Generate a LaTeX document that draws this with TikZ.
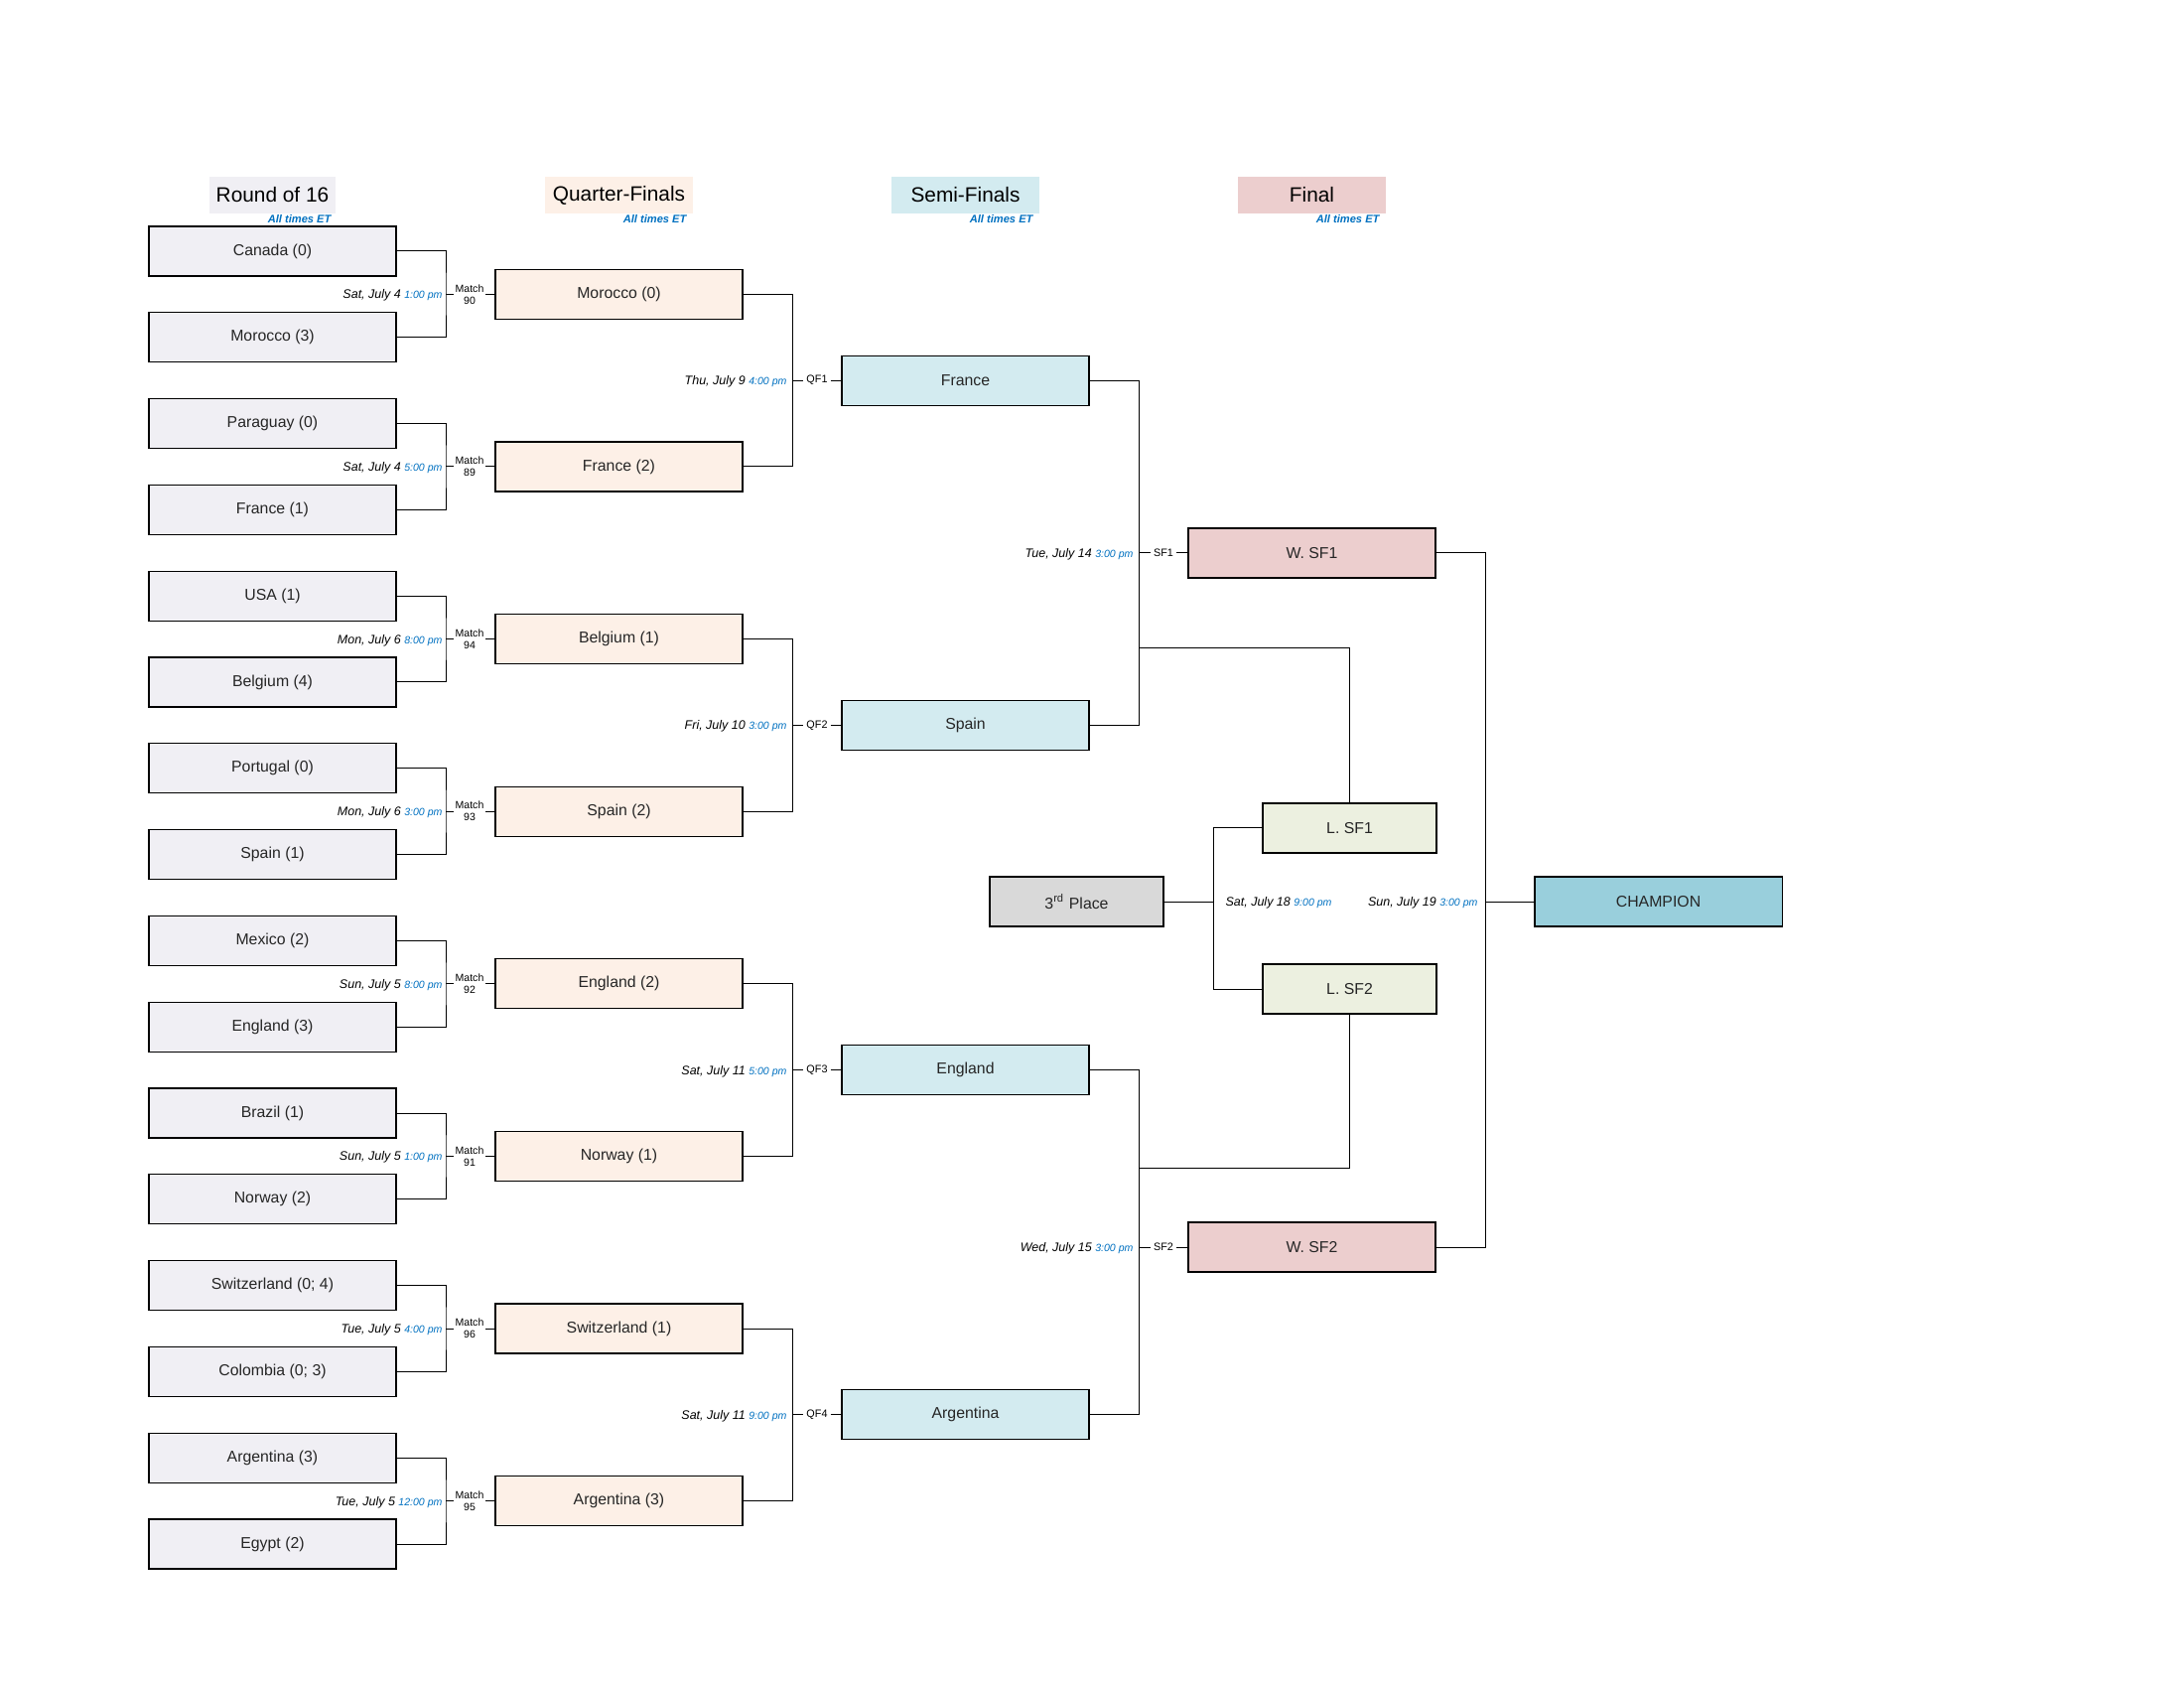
\documentclass[tikz,border=0pt]{standalone}
\usepackage{fontspec}
\setmainfont{Liberation Sans}
\definecolor{rsfill}{RGB}{240,239,244}
\definecolor{qffill}{RGB}{253,240,231}
\definecolor{sffill}{RGB}{211,235,240}
\definecolor{wffill}{RGB}{236,206,206}
\definecolor{lffill}{RGB}{236,240,224}
\definecolor{thfill}{RGB}{217,217,217}
\definecolor{chfill}{RGB}{153,207,220}
\definecolor{timeblue}{RGB}{0,112,192}
\newcommand{\mydt}[2]{{\fontsize{4.5}{5}\selectfont\itshape #1\ }{\fontsize{3.8}{4.5}\selectfont\itshape\color{timeblue}#2}}
\begin{document}
\begin{tikzpicture}[x=0.36pt,y=-0.36pt,
 team/.style={draw=black, line width=0.38pt, minimum width=89.64pt, minimum height=18pt, inner sep=0pt, text=black!85, font=\fontsize{5.7}{6.5}\selectfont},
 smallbox/.style={team, minimum width=63pt},
 title/.style={minimum height=13.3pt, inner sep=0pt, font=\fontsize{7.5}{9}\selectfont},
 alltimes/.style={anchor=east, inner sep=0pt, text=timeblue, font=\fontsize{4}{5}\selectfont\bfseries\itshape},
 datelab/.style={inner sep=0pt, font=\fontsize{4.5}{5}\selectfont},
 mlab/.style={inner xsep=0.4pt, inner ysep=0pt, align=center, font=\fontsize{3.8}{4.3}\selectfont},
 qlab/.style={inner xsep=0.9pt, inner ysep=0pt, font=\fontsize{3.9}{4.5}\selectfont},
 conn/.style={line width=0.36pt}]

\useasboundingbox (0,0) rectangle (2200,1700);

% titles
\node[title, fill=rsfill, minimum width=45.4pt] (t1) at (274.5,196.5) {Round of 16};
\node[title, fill=qffill, minimum width=53.3pt] (t2) at (623.5,196.5) {Quarter-Finals};
\node[title, fill=sffill, minimum width=53.3pt] (t3) at (972.5,196.5) {Semi-Finals};
\node[title, fill=wffill, minimum width=53.3pt] (t4) at (1321.5,196.5) {Final};
\node[alltimes] (a1) at (334,221) {All times ET};
\node[alltimes] (a2) at (692,221) {All times ET};
\node[alltimes] (a3) at (1041,221) {All times ET};
\node[alltimes] (a4) at (1390,221) {All times ET};

% round of 16
\foreach \n [count=\i from 0] in {Canada (0), Morocco (3), Paraguay (0), France (1), USA (1), Belgium (4), Portugal (0), Spain (1), Mexico (2), England (3), Brazil (1), Norway (2), Switzerland (0; 4), Colombia (0; 3), Argentina (3), Egypt (2)}
  \node[team, fill=rsfill] (r\i) at (274.5, {253+86.8*\i}) {\n};

% quarter-finals
\foreach \n [count=\i from 0] in {Morocco (0), France (2), Belgium (1), Spain (2), England (2), Norway (1), Switzerland (1), Argentina (3)}
  \node[team, fill=qffill] (q\i) at (623.5, {296.4+173.6*\i}) {\n};

% semi-finals
\foreach \n [count=\i from 0] in {France, Spain, England, Argentina}
  \node[team, fill=sffill] (s\i) at (972.5, {383.2+347.2*\i}) {\n};

% final column
\node[team, fill=wffill] (w0) at (1321.5,557) {W. SF1};
\node[team, fill=wffill] (w1) at (1321.5,1256) {W. SF2};
\node[smallbox, fill=lffill] (ls1) at (1359.5,834) {L. SF1};
\node[smallbox, fill=lffill] (ls2) at (1359.5,996) {L. SF2};
\node[smallbox, fill=thfill] (third) at (1084.5,908) {3\textsuperscript{rd} Place};
\node[team, fill=chfill] (champ) at (1670.5,908) {CHAMPION};

% R16 brackets
\foreach \p/\m/\dd/\ttm [evaluate=\p as \a using int(2*\p), evaluate=\p as \b using int(2*\p+1), evaluate=\p as \yy using 296.4+173.6*\p] in
  {0/90/{Sat, July 4}/{1:00 pm}, 1/89/{Sat, July 4}/{5:00 pm}, 2/94/{Mon, July 6}/{8:00 pm}, 3/93/{Mon, July 6}/{3:00 pm},
   4/92/{Sun, July 5}/{8:00 pm}, 5/91/{Sun, July 5}/{1:00 pm}, 6/96/{Tue, July 5}/{4:00 pm}, 7/95/{Tue, July 5}/{12:00 pm}}
{
  \coordinate (rj\p) at (449,\yy);
  \draw[conn] (r\a.east) -| (rj\p) |- (r\b.east);
  \node[mlab] (m\p) at (473,\yy) {Match\\\m};
  \draw[conn] (rj\p) -- (m\p.west);
  \draw[conn] (m\p.east) -- (q\p.west);
  \node[datelab, anchor=base east] (d\p) at (446,{\yy+4.5}) {\mydt{\dd}{\ttm}};
}

% QF brackets
\foreach \p/\dd/\ttm [evaluate=\p as \a using int(2*\p), evaluate=\p as \b using int(2*\p+1), evaluate=\p as \k using int(\p+1), evaluate=\p as \yy using 383.2+347.2*\p] in
  {0/{Thu, July 9}/{4:00 pm}, 1/{Fri, July 10}/{3:00 pm}, 2/{Sat, July 11}/{5:00 pm}, 3/{Sat, July 11}/{9:00 pm}}
{
  \coordinate (qj\p) at (798,\yy);
  \draw[conn] (q\a.east) -| (qj\p) |- (q\b.east);
  \node[qlab] (ql\p) at (823,\yy) {QF\k};
  \draw[conn] (qj\p) -- (ql\p.west);
  \draw[conn] (ql\p.east) -- (s\p.west);
  \node[datelab, anchor=base east] (qd\p) at (793,{\yy+4.5}) {\mydt{\dd}{\ttm}};
}

% SF brackets
\foreach \p/\yy/\dd/\ttm [evaluate=\p as \a using int(2*\p), evaluate=\p as \b using int(2*\p+1), evaluate=\p as \k using int(\p+1)] in
  {0/557/{Tue, July 14}/{3:00 pm}, 1/1256/{Wed, July 15}/{3:00 pm}}
{
  \coordinate (sj\p) at (1147,\yy);
  \draw[conn] (s\a.east) -| (sj\p) |- (s\b.east);
  \node[qlab] (sl\p) at (1172,\yy) {SF\k};
  \draw[conn] (sj\p) -- (sl\p.west);
  \draw[conn] (sl\p.east) -- (w\p.west);
  \node[datelab, anchor=base east] (sd\p) at (1142,{\yy+4.5}) {\mydt{\dd}{\ttm}};
}

% losers to 3rd place
\coordinate (hl1) at (1147,652.5);
\coordinate (hl2) at (1147,1176.5);
\draw[conn] (ls1.north) |- (hl1);
\draw[conn] (ls2.south) |- (hl2);
\coordinate (tj) at (1222,908);
\draw[conn] (ls1.west) -| (tj) |- (ls2.west);
\draw[conn] (third.east) -- (tj);
\node[datelab, anchor=base west] (d3rd) at (1234,912.5) {\mydt{Sat, July 18}{9:00 pm}};

% final
\coordinate (fj) at (1496,908);
\draw[conn] (w0.east) -| (fj) |- (w1.east);
\draw[conn] (fj) -- (champ.west);
\node[datelab, anchor=base east] (dfin) at (1489,912.5) {\mydt{Sun, July 19}{3:00 pm}};
\end{tikzpicture}
\end{document}
